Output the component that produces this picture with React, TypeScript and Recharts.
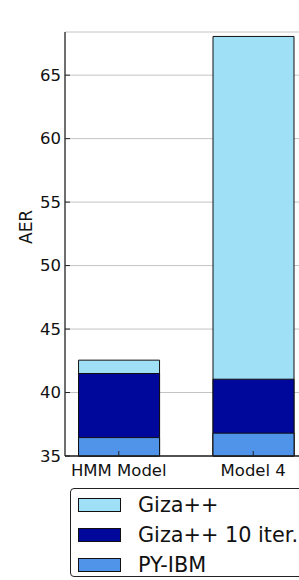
import { Bar, BarChart, CartesianGrid, Legend, XAxis, YAxis } from "recharts";

const models = ["HMM Model", "Model 4"];
const giza = [42.55, 68.05];
const giza10 = [41.5, 41.05];
const pyIbm = [36.45, 36.8];
const yTicks = [35, 40, 45, 50, 55, 60, 65];

const data = models.map((m, i) => ({
    idx: i,
    model: m,
    giza: giza[i],
    giza10: giza10[i],
    pyIbm: pyIbm[i],
}));

const FONT = "DejaVu Sans";
const AXIS = "#222";
const X_DOMAIN = [-0.4, 1.4];

const YTick = (props: any) => {
    const { x, y, payload } = props;
    return (
        <g>
            <line x1={x} x2={x + 5} y1={y} y2={y} stroke={AXIS} />
            <text x={x - 4} y={y} textAnchor="end" dominantBaseline="central" fontSize={16.5} fontFamily={FONT} fill="#111">
                {payload.value}
            </text>
        </g>
    );
};

const XTick = (props: any) => {
    const { x, y, payload } = props;
    return (
        <g>
            <line x1={x} x2={x} y1={y} y2={y - 5} stroke={AXIS} />
            <text x={x} y={y + 14} textAnchor="middle" dominantBaseline="central" fontSize={16.5} fontFamily={FONT} fill="#111">
                {models[payload.value]}
            </text>
        </g>
    );
};

const TopTick = (props: any) => {
    const { x, y } = props;
    return <line x1={x} x2={x} y1={y} y2={y + 5} stroke={AXIS} />;
};

const LegendBox = (props: any) => {
    const { payload } = props;
    return (
        <div
            style={{
                border: "1px solid #222",
                borderRadius: 4,
                background: "#fff",
                width: 260,
                height: 89,
                boxSizing: "border-box",
                paddingTop: 1,
                paddingLeft: 7,
                fontFamily: FONT,
                fontSize: 20.8,
                color: "#111",
            }}
        >
            {(payload || []).map((entry: any) => (
                <div key={entry.value} style={{ display: "flex", alignItems: "center", height: 30 }}>
                    <span
                        style={{
                            display: "inline-block",
                            width: 43,
                            height: 14,
                            boxSizing: "border-box",
                            border: "1px solid #111",
                            background: entry.color,
                            marginRight: 17,
                        }}
                    />
                    <span style={{ whiteSpace: "nowrap" }}>{entry.value}</span>
                </div>
            ))}
        </div>
    );
};

export default function App() {
    return (
        <div style={{ position: "absolute", left: 0, top: 0, width: 299, height: 580, overflow: "hidden", background: "#fff" }}>
            <BarChart
                width={320}
                height={580}
                data={data}
                margin={{ top: 32, right: 13, bottom: 94, left: 15 }}
            >
                <CartesianGrid horizontal vertical={false} stroke="#c4c4c4" />
                <XAxis
                    xAxisId="top"
                    orientation="top"
                    type="number"
                    dataKey="idx"
                    domain={X_DOMAIN}
                    ticks={[0, 1]}
                    height={0}
                    tickSize={0}
                    tickMargin={0}
                    tickLine={false}
                    tick={<TopTick />}
                    stroke={AXIS}
                    strokeWidth={1.3}
                    label={{ value: "AER", position: "top", offset: 9, fontSize: 20, fontFamily: FONT, fill: "#111" }}
                />
                <XAxis
                    type="number"
                    dataKey="idx"
                    domain={X_DOMAIN}
                    ticks={[0, 1]}
                    height={30}
                    tickSize={0}
                    tickMargin={0}
                    tickLine={false}
                    tick={<XTick />}
                    stroke={AXIS}
                    strokeWidth={1.3}
                />
                <XAxis xAxisId="b" type="number" dataKey="idx" domain={X_DOMAIN} ticks={[0, 1]} hide />
                <XAxis xAxisId="c" type="number" dataKey="idx" domain={X_DOMAIN} ticks={[0, 1]} hide />
                <YAxis
                    domain={[35, 68.4]}
                    ticks={yTicks}
                    width={50}
                    tickSize={0}
                    tickMargin={0}
                    tickLine={false}
                    tick={<YTick />}
                    stroke={AXIS}
                    strokeWidth={1.3}
                    label={{ value: "AER", angle: -90, position: "insideLeft", offset: 11, fontSize: 17, fontFamily: FONT, fill: "#111" }}
                />
                <Legend
                    layout="vertical"
                    align="center"
                    verticalAlign="middle"
                    content={<LegendBox />}
                    wrapperStyle={{ left: 70, top: 488, width: 260 }}
                />
                <Bar dataKey="giza" name="Giza++" fill="#a0e0f6" stroke="#111" strokeWidth={1} barSize={81} isAnimationActive={false} />
                <Bar xAxisId="b" dataKey="giza10" name="Giza++ 10 iter." fill="#00089c" stroke="#111" strokeWidth={1} barSize={81} isAnimationActive={false} />
                <Bar xAxisId="c" dataKey="pyIbm" name="PY-IBM" fill="#5094ea" stroke="#111" strokeWidth={1} barSize={81} isAnimationActive={false} />
            </BarChart>
        </div>
    );
}
